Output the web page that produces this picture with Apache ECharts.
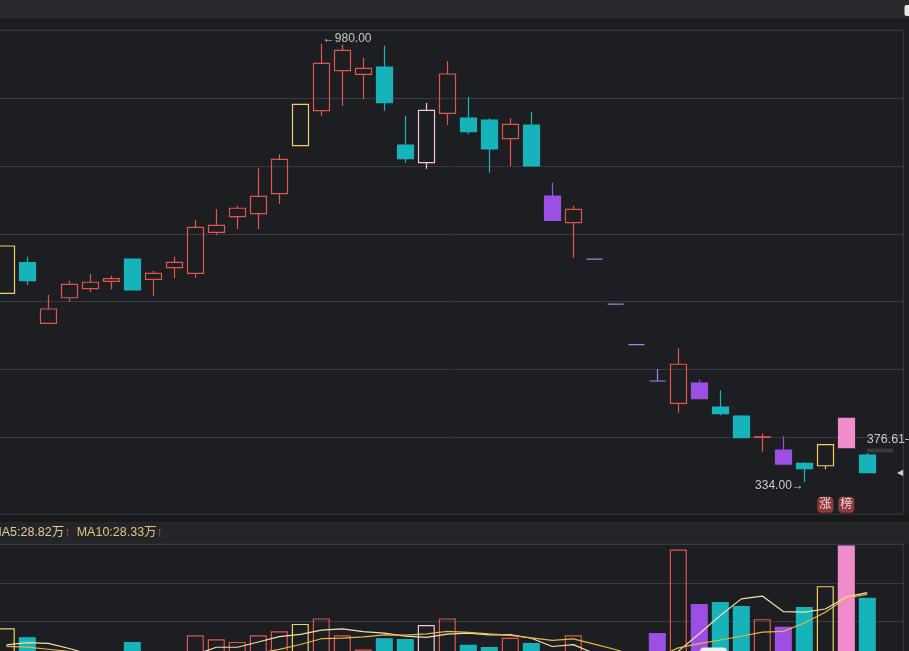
<!DOCTYPE html>
<html>
<head>
<meta charset="utf-8">
<script src="https://cdn.jsdelivr.net/npm/echarts@6/dist/echarts.min.js"></script>
<style>
html,body{margin:0;padding:0;background:#1d1e22;}
#c{width:909px;height:651px;}
</style>
</head>
<body>
<div id="c"></div>
<script>
// ---- data ----
const days = ['1','2','3','4','5','6','7','8','9','10','11','12','13','14','15','16','17','18','19','20','21','22','23','24','25','26','27','28','29','30','31','32','33','34','35','36','37','38','39','40','41','42'];
const openP  = [612.2,657.4,568.0,605.7,619.0,629.9,662.8,632.9,650.0,641.7,702.2,725.2,729.6,759.1,829.9,881.5,940.4,935.1,945.9,830.9,804.8,877.6,870.7,867.7,840.2,860.4,755.7,716.3,662.5,596.2,536.6,482.9,450.0,480.0,444.6,431.3,399.6,381.2,361.6,358.0,427.9,373.8];
const closeP = [682.0,630.8,589.1,625.5,628.5,633.8,617.1,641.7,657.9,709.5,712.5,737.6,755.2,809.8,890.9,951.3,970.5,944.0,893.3,810.7,882.0,935.6,850.5,825.0,861.4,799.9,719.9,736.1,662.5,596.2,536.6,482.9,507.6,456.8,434.7,399.3,400.6,360.5,353.6,389.0,384.6,347.7];
const lowP   = [612.2,624.5,568.0,599.8,613.7,618.1,617.1,608.3,634.3,635.2,698.2,707.0,707.0,743.9,829.9,873.6,888.4,898.7,881.5,804.8,795.9,860.4,846.7,790.0,799.9,799.9,719.9,664.7,662.5,596.2,536.6,482.9,436.2,456.8,432.4,399.3,378.7,360.5,334.0,352.7,384.6,347.7];
const highP  = [682.0,666.2,609.7,630.8,640.7,638.2,663.8,645.1,666.2,720.3,736.5,741.4,796.5,817.2,890.9,980.0,978.8,959.6,977.3,873.6,892.8,954.7,901.7,870.3,870.3,879.5,775.3,741.4,662.5,596.2,536.6,500.6,531.2,484.8,469.2,432.8,405.2,401.4,363.1,389.0,427.9,376.61];
// day type: up / down / limitUp / limitDown / upAlt / oneWord / openLimitFall
const dayKind = ['limitUp','down','up','up','up','up','down','up','up','up','up','up','up','up','limitUp','up','up','up','down','down','upAlt','up','down','down','up','down','limitDown','up','oneWord','oneWord','oneWord','oneWord','up','limitDown','down','down','up','limitDown','down','limitUp','openLimitFall','down'];
// volume, 万 shares
const volume = [19.1,16.7,9.0,8.0,7.0,6.0,15.4,10.0,11.0,17.2,16.1,15.4,17.2,18.3,20.3,21.8,17.2,13.3,16.4,16.2,20.0,21.8,14.6,14.0,16.5,15.1,10.5,17.2,2.0,1.5,2.5,17.8,40.6,25.7,26.3,25.2,21.6,19.5,24.9,30.6,41.7,27.4];
const volMA5  = [14.6,15.2,15.0,13.6,11.96,9.34,9.08,9.28,9.88,11.92,13.94,13.94,15.38,16.84,17.46,18.6,18.96,18.18,17.8,16.98,16.62,17.54,17.8,17.32,17.38,16.4,14.14,14.66,12.26,9.26,6.74,8.2,12.88,17.62,22.58,27.12,27.88,23.66,23.5,24.36,27.66,28.82];
const volMA10 = [14.2,14.0,13.4,12.8,12.2,11.6,11.8,11.3,11.0,11.94,11.64,11.51,12.33,13.36,14.69,16.27,16.45,16.78,17.32,17.22,17.61,18.25,17.99,17.56,17.18,16.51,15.84,16.23,14.79,13.32,11.57,11.17,13.77,14.94,15.92,16.93,18.04,18.27,20.56,23.47,27.39,28.33];
const badgeTexts = ['涨','榜'];
const badgeDays = [39,40];
const badgeLevel = 300.6;
const lastMarkDay = 41;

// ---- styles ----
const RED='#e0564f', CYAN='#17b3ba', PURPLE='#9c4fe2', YELLOW='#efd063', PINK='#f28bcb', PINKW='#f0c6da', LAV='#9b88d8';
const GRIDC='#3a3b40', TXT='#c9c9c9';
const FONT="'Liberation Sans','Noto Sans CJK SC',sans-serif";
const candleLook = {
  up:{fill:'transparent',line:RED}, down:{fill:CYAN,line:CYAN}, limitUp:{fill:'transparent',line:YELLOW},
  limitDown:{fill:PURPLE,line:PURPLE}, upAlt:{fill:'transparent',line:PINKW}, oneWord:{fill:LAV,line:LAV},
  openLimitFall:{fill:PINK,line:PINK}
};
const volLook = Object.assign({}, candleLook, {oneWord:{fill:PURPLE,line:PURPLE}});

const candleData = days.map((d,i)=>{
  const k = candleLook[dayKind[i]];
  return {value:[openP[i],closeP[i],lowP[i],highP[i]],
    itemStyle:{color:k.fill,color0:k.fill,borderColor:k.line,borderColor0:k.line,borderColorDoji:k.line,borderWidth:1.2}};
});
const volData = days.map((d,i)=>{
  const k = volLook[dayKind[i]];
  return {value:volume[i], itemStyle:{color:k.fill,borderColor:k.line,borderWidth:1.2}};
});

const G = (o)=>Object.assign({outerBoundsMode:'none',containLabel:false}, o);
const hiddenCat = (g)=>({type:'category',gridIndex:g,data:days,boundaryGap:true,show:false});
const chart = echarts.init(document.getElementById('c'));
chart.setOption({
  backgroundColor:'#1d1e22',
  animation:false,
  grid:[
    G({left:-4.2, top:30.3, width:882, height:542.6}),
    G({left:-4.2, top:544.3, width:882, height:154.1}),
    G({left:0, top:30.3, width:903.3, height:542.6}),
    G({left:-2, top:544.3, width:905.3, height:154.1, show:true, borderColor:GRIDC, borderWidth:1, backgroundColor:'transparent'}),
    G({left:-2, top:30.3, width:905.3, height:483.7, show:true, borderColor:GRIDC, borderWidth:1, backgroundColor:'transparent'})
  ],
  xAxis:[
    hiddenCat(0), hiddenCat(1),
    {type:'value',gridIndex:2,min:0,max:1,show:false},
    {type:'value',gridIndex:3,min:0,max:1,show:false},
    {type:'value',gridIndex:4,min:0,max:1,show:false}
  ],
  yAxis:[
    {type:'value',gridIndex:0,min:200,max:1000,interval:100,show:false},
    {type:'value',gridIndex:1,min:0,max:42,interval:10.5,show:false},
    {type:'value',gridIndex:2,min:200,max:1000,interval:100,axisLine:{show:false},axisTick:{show:false},axisLabel:{show:false},
      splitLine:{show:true,lineStyle:{width:1,color:['transparent','transparent',GRIDC,GRIDC,GRIDC,GRIDC,GRIDC,GRIDC,GRIDC]}}},
    {type:'value',gridIndex:3,min:0,max:42,interval:10.5,axisLine:{show:false},axisTick:{show:false},axisLabel:{show:false},
      splitLine:{show:true,lineStyle:{width:1,color:GRIDC}}},
    {type:'value',gridIndex:4,min:0,max:1,show:false}
  ],
  series:[
    {type:'candlestick',xAxisIndex:0,yAxisIndex:0,barWidth:17,data:candleData,
      markPoint:{symbol:'circle',symbolSize:1,itemStyle:{color:'transparent'},
        label:{color:TXT,fontSize:12,fontFamily:FONT},
        data:[
          {type:'max',valueDim:'highest',label:{position:'right',distance:1,offset:[0,-5],formatter:p=>'←'+Number(p.value).toFixed(2)}},
          {type:'min',valueDim:'lowest',label:{position:'left',distance:0,offset:[0,4],formatter:p=>Number(p.value).toFixed(2)+'→'}},
          {coord:[days[lastMarkDay],highP[lastMarkDay]],value:highP[lastMarkDay],label:{position:'right',distance:0,offset:[-1,-14],fontSize:12.5,formatter:p=>Number(p.value).toFixed(2)+'—'}},
          ...badgeDays.map((d,j)=>({coord:[days[d],badgeLevel],value:badgeTexts[j],symbol:'roundRect',symbolSize:[16,16],
            itemStyle:{color:'#8c3a3e'},label:{position:'inside',color:'#f3d8d8',fontSize:12,formatter:badgeTexts[j]}}))
        ]}
    },
    {type:'bar',xAxisIndex:1,yAxisIndex:1,barWidth:17,data:volData},
    {type:'line',xAxisIndex:1,yAxisIndex:1,data:volMA5,showSymbol:false,symbol:'none',lineStyle:{width:1.2,color:'#efe2a8'}},
    {type:'line',xAxisIndex:1,yAxisIndex:1,data:volMA10,showSymbol:false,symbol:'none',lineStyle:{width:1.2,color:'#e2b74e'}}
  ],
  graphic:[
    {type:'rect',z:-5,shape:{x:0,y:0,width:909,height:18.5},style:{fill:'#28292d'}},
    {type:'rect',z:-5,shape:{x:0,y:515,width:909,height:6.7},style:{fill:'#19191c'}},
    {type:'rect',z:-5,shape:{x:0,y:521.7,width:909,height:22.3},style:{fill:'#242529'}},
    {type:'rect',z:5,shape:{x:904.5,y:5,width:8,height:11,r:2},style:{fill:'#e6e6e6'}},
    {type:'rect',z:5,shape:{x:867,y:448.5,width:26,height:4},style:{fill:'#38393e'}},
    {type:'rect',z:5,shape:{x:700,y:647.5,width:27,height:8,r:4},style:{fill:'#f0f0f0'}},
    {type:'text',z:10,x:897,y:472.5,style:{text:'◀',fill:'#d0d0d0',fontSize:8,verticalAlign:'middle',align:'left'}},
    {type:'text',z:10,x:-8.7,y:532.5,style:{text:'{a|MA5:'+volMA5[41].toFixed(2)+'万}{r|↑}',verticalAlign:'middle',align:'left',
      rich:{a:{fill:'#dccd98',fontSize:12.5,fontFamily:FONT},r:{fill:'#e0484a',fontSize:12.5,fontFamily:FONT}}}},
    {type:'text',z:10,x:76.7,y:532.5,style:{text:'{a|MA10:'+volMA10[41].toFixed(2)+'万}{r|↑}',verticalAlign:'middle',align:'left',
      rich:{a:{fill:'#e0c47a',fontSize:12.5,fontFamily:FONT},r:{fill:'#e0484a',fontSize:12.5,fontFamily:FONT}}}}
  ]
});
</script>
</body>
</html>
